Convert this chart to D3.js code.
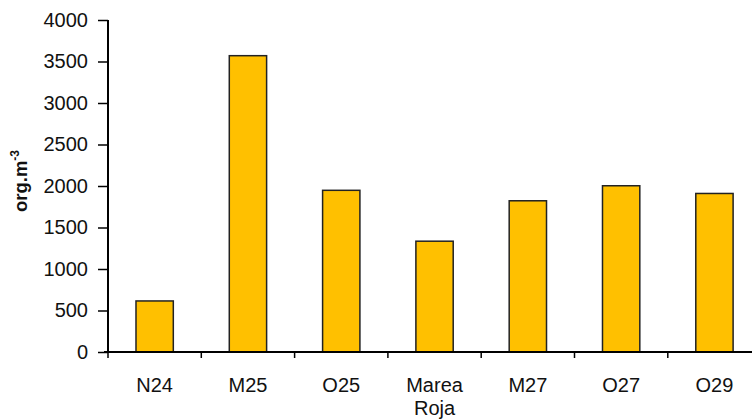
<!DOCTYPE html>
<html>
<head>
<meta charset="utf-8">
<script src="https://cdn.jsdelivr.net/npm/d3@7"></script>
<style>
  html, body { margin: 0; padding: 0; background: #fff; }
  svg { display: block; font-family: "Liberation Sans", Arial, sans-serif; }
</style>
</head>
<body>
<svg id="chart" width="752" height="419"></svg>
<script>
// Sampling campaigns and zooplankton abundance (org.m-3)
const categories = ["N24", "M25", "O25", "Marea Roja", "M27", "O27", "O29"];
const values = [615, 3570, 1948, 1335, 1822, 2003, 1910];
const yTicks = [0, 500, 1000, 1500, 2000, 2500, 3000, 3500, 4000];

const svg = d3.select("#chart");
const x0 = 108, y0 = 352, yTop = 20;
const bandStep = 93.3;
const FONT = "'Liberation Sans', Arial, sans-serif";

const x = d3.scaleBand()
  .domain(categories)
  .range([x0, x0 + bandStep * categories.length])
  .paddingInner(0.6)
  .paddingOuter(0.3);

const y = d3.scaleLinear().domain([0, 4000]).range([y0, yTop]);

// Bars
svg.append("g").selectAll("rect")
  .data(values)
  .join("rect")
  .attr("x", (d, i) => x(categories[i]))
  .attr("y", d => y(d))
  .attr("width", x.bandwidth())
  .attr("height", d => y0 - y(d))
  .attr("fill", "#FFC000")
  .attr("stroke", "#222")
  .attr("stroke-width", 1.5);

// Y axis
const yAxis = svg.append("g")
  .attr("transform", `translate(${x0},0)`)
  .call(d3.axisLeft(y).tickValues(yTicks).tickSize(10).tickPadding(10).tickFormat(d3.format("d")));
yAxis.select(".domain").attr("stroke", "#000").attr("stroke-width", 2).attr("d", `M0,${yTop}V${y0}`);
yAxis.selectAll(".tick line").attr("stroke", "#000").attr("stroke-width", 1.5);
yAxis.selectAll(".tick text").attr("font-size", 20).attr("fill", "#111")
  .style("font-family", FONT);

// X axis line with ticks at band boundaries
const xg = svg.append("g");
xg.append("line")
  .attr("x1", x0 - 4).attr("x2", 752)
  .attr("y1", y0).attr("y2", y0)
  .attr("stroke", "#000").attr("stroke-width", 2);
const bounds = d3.range(categories.length).map(i => x0 + i * bandStep);
xg.selectAll("line.tk")
  .data(bounds)
  .join("line")
  .attr("class", "tk")
  .attr("x1", d => d).attr("x2", d => d)
  .attr("y1", y0).attr("y2", y0 + 6)
  .attr("stroke", "#000").attr("stroke-width", 1.5);

// Category labels (wrapping on spaces)
const lab = svg.append("g").attr("font-size", 20).attr("fill", "#111")
  .attr("text-anchor", "middle").style("font-family", FONT);
categories.forEach(c => {
  const cx = x(c) + x.bandwidth() / 2;
  const t = lab.append("text").attr("x", cx).attr("y", 392);
  c.split(" ").forEach((w, k) => {
    t.append("tspan").attr("x", cx).attr("dy", k === 0 ? 0 : 23).text(w);
  });
});

// Y axis title
const yt = svg.append("text")
  .attr("transform", "translate(27,181) rotate(-90)")
  .attr("text-anchor", "middle")
  .attr("font-size", 18.5)
  .attr("font-weight", "bold")
  .attr("fill", "#111")
  .style("font-family", FONT);
yt.append("tspan").text("org.m");
yt.append("tspan").attr("font-size", 12).attr("dy", -8).text("-3");
</script>
</body>
</html>
